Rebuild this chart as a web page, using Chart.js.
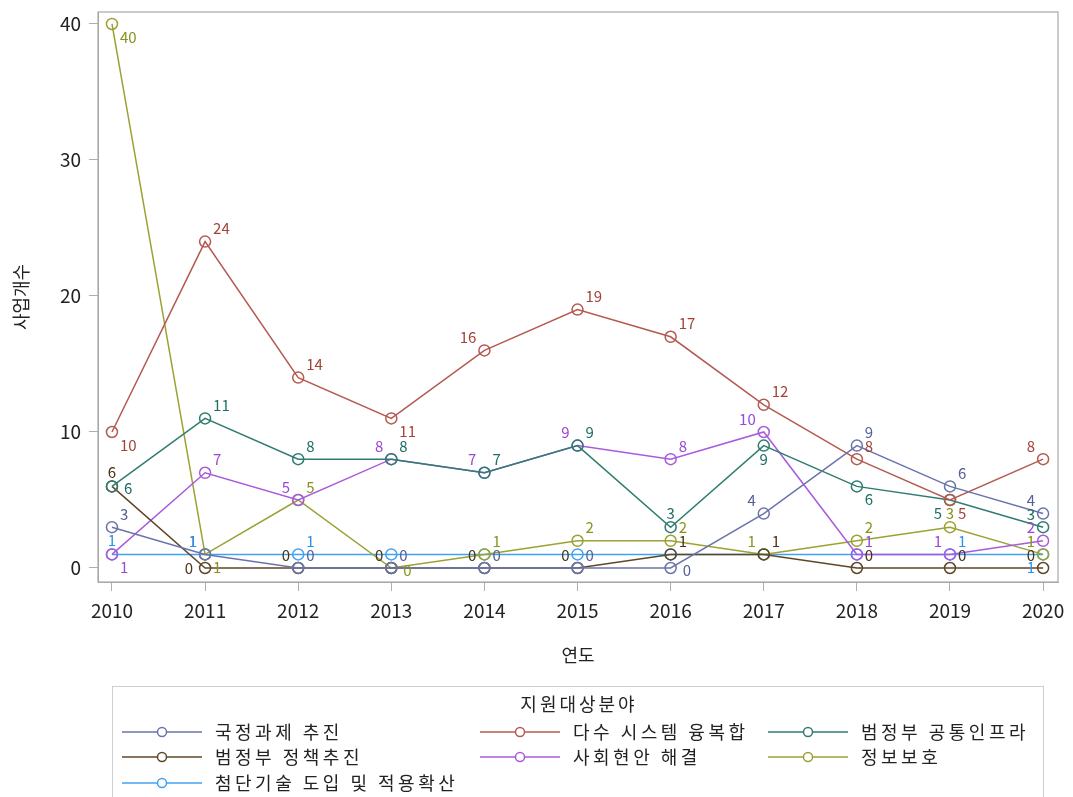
<!DOCTYPE html>
<html lang="ko">
<head>
<meta charset="utf-8">
<title>지원대상분야별 사업개수</title>
<script src="https://cdn.jsdelivr.net/npm/chart.js@4/dist/chart.umd.min.js"></script>
<style>
  html, body { margin: 0; padding: 0; background: #fff; }
  #wrap { width: 1073px; height: 797px; position: relative; }
</style>
</head>
<body>
<div id="wrap"><canvas id="chart" width="1073" height="797"></canvas></div>
<script>
// DONNÉES
const years = [2010, 2011, 2012, 2013, 2014, 2015, 2016, 2017, 2018, 2019, 2020];
const yTicks = [0, 10, 20, 30, 40];

const seriesNames = ['국정과제 추진', '다수 시스템 융복합', '범정부 공통인프라',
                     '범정부 정책추진', '사회현안 해결', '정보보호', '첨단기술 도입 및 적용확산'];

const gukjeong   = [3, 1, 0, 0, 0, 0, 0, 4, 9, 6, 4];
const dasu       = [10, 24, 14, 11, 16, 19, 17, 12, 8, 5, 8];
const gongtong   = [6, 11, 8, 8, 7, 9, 3, 9, 6, 5, 3];
const jeongchaek = [6, 0, 0, 0, 0, 0, 1, 1, 0, 0, 0];
const sahoe      = [1, 7, 5, 8, 7, 9, 8, 10, 1, 1, 2];
const jeongbo    = [40, 1, 5, 0, 1, 2, 2, 1, 2, 3, 1];
const cheomdan   = [1, 1, 1, 1, 1, 1, 1, 1, 1, 1, 1];

const seriesValues = [gukjeong, dasu, gongtong, jeongchaek, sahoe, jeongbo, cheomdan];

// STYLES
const lineColors  = ['#6a74ac', '#b45a50', '#2f7c70', '#5e4628', '#a95ade', '#9ba232', '#42a2f2'];
const labelColors = ['#55609a', '#a2443a', '#1e6e62', '#4a3418', '#9a48d6', '#8a921e', '#2a92ee'];

// position des étiquettes (évite les chevauchements comme dans l'original)
const labelPos = [
  ['ur','ul','ur','ur','ur','ur','r','ul','ur','ur','ul'],
  ['lr','ur','ur','lr','ul','ur','ur','ur','ur','lr','ul'],
  ['r','ur','ur','ur','ur','ur','u','d','lr','ll','ul'],
  ['u','l','ul','ul','ul','ul','ur','ur','ur','ur','ul'],
  ['lr','ur','ul','ul','ul','ul','ur','ul','ur','ul','ul'],
  ['lr','lr','ur','r','ur','ur','ur','ul','ur','u','ul'],
  ['u','ul','ur','x','x','x','x','x','x','ur','ll']
];

const FONT = '"Noto Sans CJK KR", "Noto Sans", sans-serif';

const datasets = seriesNames.map((name, i) => ({
  label: name,
  data: years.map((y, k) => ({ x: y, y: seriesValues[i][k] })),
  borderColor: lineColors[i],
  backgroundColor: 'transparent',
  borderWidth: 1.5,
  pointRadius: 5.5,
  pointBorderWidth: 1.5,
  pointBackgroundColor: 'transparent',
  pointBorderColor: lineColors[i],
  tension: 0
}));

// PLUGIN : cadre + étiquettes + légende
const extrasPlugin = {
  id: 'extras',
  afterDatasetsDraw(chart) {
    const ctx = chart.ctx;
    const a = chart.chartArea;
    ctx.save();
    ctx.strokeStyle = '#a8a8a8';
    ctx.lineWidth = 1.2;
    ctx.strokeRect(a.left, a.top, a.right - a.left, a.bottom - a.top);

    ctx.font = '15px ' + FONT;
    ctx.textBaseline = 'middle';
    chart.data.datasets.forEach((ds, i) => {
      const meta = chart.getDatasetMeta(i);
      meta.data.forEach((pt, k) => {
        const pos = labelPos[i][k];
        if (pos === 'x') return;
        let dx = 0, dy = 0, align = 'center';
        if (pos === 'ur' || pos === 'ul') dy = -13;
        if (pos === 'lr' || pos === 'll') dy = 13;
        if (pos === 'u') dy = -14;
        if (pos === 'd') dy = 14;
        if (pos === 'ur' || pos === 'lr') { dx = 8; align = 'left'; }
        if (pos === 'ul' || pos === 'll') { dx = -8; align = 'right'; }
        if (pos === 'r') { dx = 12; dy = 2; align = 'left'; }
        if (pos === 'l') { dx = -12; align = 'right'; }
        ctx.textAlign = align;
        ctx.fillStyle = labelColors[i];
        ctx.fillText(String(seriesValues[i][k]), pt.x + dx, pt.y + dy);
      });
    });
    ctx.restore();
  },
  afterDraw(chart) {
    const ctx = chart.ctx;
    ctx.save();
    // cadre de la légende
    ctx.strokeStyle = '#cfcfcf';
    ctx.lineWidth = 1;
    ctx.strokeRect(112.5, 686.5, 931, 130);

    ctx.fillStyle = '#222';
    ctx.textBaseline = 'middle';
    ctx.textAlign = 'center';
    ctx.font = '18px ' + FONT;
    ctx.letterSpacing = '3px';
    ctx.fillText('지원대상분야', 579, 704);

    const colX = [122, 480, 768];
    const rowY = [732, 757, 783];
    chart.data.datasets.forEach((ds, i) => {
      const x = colX[i % 3], y = rowY[Math.floor(i / 3)];
      ctx.strokeStyle = lineColors[i];
      ctx.lineWidth = 1.5;
      ctx.beginPath();
      ctx.moveTo(x, y); ctx.lineTo(x + 80, y);
      ctx.stroke();
      ctx.fillStyle = '#fff';
      ctx.beginPath();
      ctx.arc(x + 40, y, 4.5, 0, Math.PI * 2);
      ctx.fill(); ctx.stroke();
      ctx.fillStyle = '#222';
      ctx.textAlign = 'left';
      ctx.letterSpacing = '3.5px';
      ctx.fillText(ds.label, x + 93, y);
    });
    ctx.restore();
  }
};

const ctx = document.getElementById('chart').getContext('2d');
new Chart(ctx, {
  type: 'line',
  data: { datasets: datasets },
  options: {
    responsive: false,
    animation: false,
    layout: { padding: { top: 12, right: 15, bottom: 127, left: 0 } },
    plugins: { legend: { display: false }, tooltip: { enabled: false } },
    scales: {
      x: {
        type: 'linear',
        min: 2009.85,
        max: 2020.16,
        afterBuildTicks: s => { s.ticks = years.map(v => ({ value: v })); },
        afterFit: s => { s.height = 88; s.paddingLeft = 0; s.paddingRight = 0; },
        grid: { drawOnChartArea: false, drawTicks: true, tickLength: 9, color: '#b0b0b0' },
        border: { display: true, color: '#a8a8a8' },
        ticks: { color: '#222', font: { family: FONT, size: 19 }, padding: 8, callback: v => String(v) },
        title: { display: true, text: '연도', color: '#222', font: { family: FONT, size: 18 }, padding: { top: 0, bottom: 4 } }
      },
      y: {
        type: 'linear',
        min: -1.03,
        max: 40.88,
        afterBuildTicks: s => { s.ticks = yTicks.map(v => ({ value: v })); },
        afterFit: s => { s.width = 98; s.paddingTop = 0; s.paddingBottom = 0; },
        grid: { drawOnChartArea: false, drawTicks: true, tickLength: 9, color: '#b0b0b0' },
        border: { display: true, color: '#a8a8a8' },
        ticks: { color: '#222', font: { family: FONT, size: 19 }, padding: 8 },
        title: { display: true, text: '사업개수', color: '#222', font: { family: FONT, size: 18 }, padding: { top: 10, bottom: 10 } }
      }
    }
  },
  plugins: [extrasPlugin]
});
</script>
</body>
</html>
